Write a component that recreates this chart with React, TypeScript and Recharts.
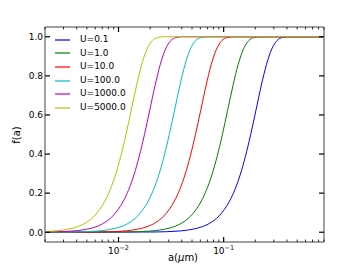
import React from 'react';
import { LineChart, Line, XAxis, YAxis } from 'recharts';

const seriesNames = ['U=0.1', 'U=1.0', 'U=10.0', 'U=100.0', 'U=1000.0', 'U=5000.0'];
const seriesColors = ['#0000ff', '#008000', '#ff0000', '#00bfbf', '#bf00bf', '#bfbf00'];

// f(a) levels shared by all curves; each curve has the a values where it reaches them
const fLevels = [0, 0.0014, 0.0028, 0.0055, 0.0109, 0.0217, 0.0428, 0.0837, 0.16, 0.218, 0.293, 0.388, 0.5, 0.624, 0.749, 0.858, 0.937, 0.98, 0.996, 1.0, 1.0];

const aU0p1 = [0.002, 0.02275, 0.02864, 0.03606, 0.04539, 0.05715, 0.07194, 0.09057, 0.114, 0.1279, 0.1435, 0.1611, 0.1807, 0.2028, 0.2275, 0.2553, 0.2864, 0.3214, 0.3606, 0.414, 0.9];
const aU1 = [0.002, 0.01225, 0.01542, 0.01941, 0.02443, 0.03076, 0.03873, 0.04875, 0.06138, 0.06887, 0.07727, 0.0867, 0.09728, 0.1091, 0.1225, 0.1374, 0.1542, 0.173, 0.1941, 0.2228, 0.9];
const aU10 = [0.002, 0.006792, 0.008551, 0.01077, 0.01355, 0.01706, 0.02148, 0.02704, 0.03404, 0.03819, 0.04286, 0.04808, 0.05395, 0.06053, 0.06792, 0.07621, 0.08551, 0.09594, 0.1077, 0.1236, 0.9];
const aU100 = [0.002, 0.003828, 0.00482, 0.006067, 0.007638, 0.009616, 0.01211, 0.01524, 0.01919, 0.02153, 0.02416, 0.0271, 0.03041, 0.03412, 0.03828, 0.04295, 0.0482, 0.05408, 0.06067, 0.06966, 0.9];
const aU1000 = [0.002, 0.002223, 0.002799, 0.003524, 0.004436, 0.005585, 0.007031, 0.008851, 0.01114, 0.0125, 0.01403, 0.01574, 0.01766, 0.01982, 0.02223, 0.02495, 0.02799, 0.03141, 0.03524, 0.04046, 0.9];
const aU5000 = [0.001, 0.001483, 0.001866, 0.00235, 0.002958, 0.003724, 0.004688, 0.005902, 0.00743, 0.008337, 0.009354, 0.0105, 0.01178, 0.01321, 0.01483, 0.01663, 0.01866, 0.02094, 0.0235, 0.02698, 0.9];

const aBySeries = [aU0p1, aU1, aU10, aU100, aU1000, aU5000];

const xMajorTicks = [0.01, 0.1];
const xMajorExponents = ['\u22122', '\u22121'];
const xMinorTicks = [0.002, 0.003, 0.004, 0.005, 0.006, 0.007, 0.008, 0.009, 0.02, 0.03, 0.04, 0.05, 0.06, 0.07, 0.08, 0.09, 0.2, 0.3, 0.4, 0.5, 0.6, 0.7, 0.8, 0.9];
const yTicks = [0, 0.2, 0.4, 0.6, 0.8, 1.0];
const xDomain = [0.002, 0.9];
const yDomain = [-0.05, 1.05];

const FONT = 'DejaVu Sans';
const SPINE = '#a0a0a0';

const allXTicks = [...xMinorTicks, ...xMajorTicks].sort((p, q) => p - q);

const seriesData = aBySeries.map((arr) => arr.map((a, i) => ({ a, f: fLevels[i] })));

const BottomTick = (props: any) => {
  const { x, y, payload } = props;
  const idx = xMajorTicks.indexOf(payload.value);
  const major = idx >= 0;
  return (
    <g>
      <line x1={x} x2={x} y1={y} y2={y - (major ? 5 : 2.5)} stroke="#000" strokeWidth={major ? 1.2 : 0.8} />
      {major && (
        <text x={x} y={y + 12} textAnchor="middle" fontSize={9} fontFamily={FONT} fill="#000">
          10<tspan dy={-4} fontSize={6.5}>{xMajorExponents[idx]}</tspan>
        </text>
      )}
    </g>
  );
};

const TopTick = (props: any) => {
  const { x, y, payload } = props;
  const major = xMajorTicks.indexOf(payload.value) >= 0;
  return <line x1={x} x2={x} y1={y} y2={y + (major ? 5 : 2.5)} stroke="#000" strokeWidth={major ? 1.2 : 0.8} />;
};

const LeftTick = (props: any) => {
  const { x, y, payload } = props;
  return (
    <g>
      <line x1={x} x2={x + 5} y1={y} y2={y} stroke="#000" strokeWidth={1.2} />
      <text x={x - 2} y={y + 3.3} textAnchor="end" fontSize={9} fontFamily={FONT} fill="#000">
        {Number(payload.value).toFixed(1)}
      </text>
    </g>
  );
};

const RightTick = (props: any) => {
  const { x, y } = props;
  return <line x1={x} x2={x - 5} y1={y} y2={y} stroke="#000" strokeWidth={1.2} />;
};

export default function App() {
  return (
    <div style={{ position: 'absolute', left: 0, top: 0, width: 360, height: 270, background: '#fff' }}>
      <LineChart width={360} height={270} margin={{ top: 7, right: 16, bottom: 8, left: 25 }}>
        <XAxis
          dataKey="a"
          type="number"
          scale="log"
          domain={xDomain}
          allowDataOverflow
          ticks={allXTicks}
          interval={0}
          height={20}
          tickSize={0}
          tickMargin={0}
          tick={<BottomTick />}
          axisLine={{ stroke: SPINE, strokeWidth: 2 }}
          tickLine={false}
        />
        <XAxis
          xAxisId="top"
          orientation="top"
          dataKey="a"
          type="number"
          scale="log"
          domain={xDomain}
          allowDataOverflow
          ticks={allXTicks}
          interval={0}
          height={20}
          tickSize={0}
          tickMargin={0}
          tick={<TopTick />}
          axisLine={{ stroke: SPINE, strokeWidth: 2 }}
          tickLine={false}
        />
        <YAxis
          type="number"
          domain={yDomain}
          allowDataOverflow
          ticks={yTicks}
          interval={0}
          width={20}
          tickSize={0}
          tickMargin={0}
          tick={<LeftTick />}
          axisLine={{ stroke: SPINE, strokeWidth: 2 }}
          tickLine={false}
        />
        <YAxis
          yAxisId="right"
          orientation="right"
          type="number"
          domain={yDomain}
          allowDataOverflow
          ticks={yTicks}
          interval={0}
          width={20}
          tickSize={0}
          tickMargin={0}
          tick={<RightTick />}
          axisLine={{ stroke: SPINE, strokeWidth: 2 }}
          tickLine={false}
        />
        {seriesData.map((d, i) => (
          <Line
            key={seriesNames[i]}
            data={d}
            dataKey="f"
            name={seriesNames[i]}
            type="monotone"
            stroke={seriesColors[i]}
            strokeWidth={1}
            dot={false}
            activeDot={false}
            isAnimationActive={false}
          />
        ))}
      </LineChart>
      <div style={{ position: 'absolute', left: 55, top: 33, fontFamily: FONT, fontSize: 9, color: '#000' }}>
        {seriesNames.map((n, i) => (
          <div key={n} style={{ display: 'flex', alignItems: 'center', height: 13.6 }}>
            <div style={{ width: 15, height: 2, background: seriesColors[i], opacity: 0.6 }} />
            <span style={{ marginLeft: 10, lineHeight: '13.6px', whiteSpace: 'nowrap' }}>{n}</span>
          </div>
        ))}
      </div>
      <div
        style={{ position: 'absolute', left: 183, top: 252, transform: 'translateX(-50%)', fontFamily: FONT, fontSize: 10, whiteSpace: 'nowrap', color: '#000' }}
      >
        a(<i>μ</i>m)
      </div>
      <div
        style={{ position: 'absolute', left: 16, top: 135, transform: 'translate(-50%, -50%) rotate(-90deg)', fontFamily: FONT, fontSize: 10, whiteSpace: 'nowrap', color: '#000' }}
      >
        f(a)
      </div>
    </div>
  );
}
